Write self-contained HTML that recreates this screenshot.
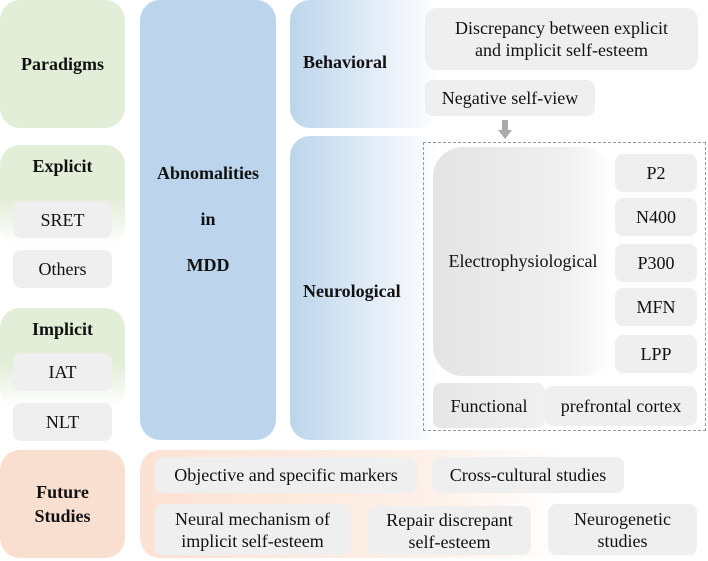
<!DOCTYPE html>
<html><head><meta charset="utf-8"><style>
body{margin:0;width:708px;height:561px;background:#fff;position:relative;overflow:hidden;font-family:"Liberation Serif","Times New Roman",serif;color:#111}
div.b{position:absolute;display:flex;align-items:center;justify-content:center;text-align:center;box-sizing:border-box;font-family:"Liberation Serif","Times New Roman",serif}
.g{background:#efefef;border-radius:8px;font-size:18px;line-height:22px;white-space:nowrap}
.h{font-weight:bold;font-size:18px}
</style></head><body>
<div class="b h" style="left:0;top:0;width:125px;height:128px;background:#e3eed9;border-radius:20px">Paradigms</div>
<div class="b h" style="left:0;top:145px;width:125px;height:100px;background:linear-gradient(#e3eed9 55%,#fff);border-radius:20px;align-items:flex-start;padding-top:11px">Explicit</div>
<div class="b h" style="left:0;top:308px;width:125px;height:100px;background:linear-gradient(#e3eed9 55%,#fff);border-radius:20px;align-items:flex-start;padding-top:11px">Implicit</div>
<div class="b g" style="left:13px;top:201px;width:99px;height:37px">SRET</div>
<div class="b g" style="left:13px;top:250px;width:99px;height:38px">Others</div>
<div class="b g" style="left:13px;top:353px;width:99px;height:38px">IAT</div>
<div class="b g" style="left:13px;top:403px;width:99px;height:38px">NLT</div>
<div class="b h" style="left:140px;top:0;width:136px;height:440px;background:#bcd5ec;border-radius:20px;line-height:46px;padding-bottom:2px">Abnomalities<br>in<br>MDD</div>
<div class="b h" style="left:290px;top:0;width:150px;height:128px;background:linear-gradient(90deg,#bcd5ec,#fff);border-radius:20px;justify-content:flex-start;padding-left:13px;padding-bottom:4px">Behavioral</div>
<div class="b h" style="left:290px;top:136px;width:150px;height:304px;background:linear-gradient(90deg,#bcd5ec,#fff);border-radius:20px;justify-content:flex-start;padding-left:13px;padding-top:6px">Neurological</div>
<div class="b g" style="left:425px;top:8px;width:273px;height:62px;border-radius:12px">Discrepancy between explicit<br>and implicit self-esteem</div>
<div class="b g" style="left:425px;top:80px;width:170px;height:36px">Negative self-view</div>
<div style="position:absolute;left:502px;top:120px;width:6px;height:10px;background:#aaa"></div>
<div style="position:absolute;left:498px;top:130px;width:0;height:0;border-left:7px solid transparent;border-right:7px solid transparent;border-top:9px solid #aaa"></div>
<div style="position:absolute;left:423px;top:142px;width:283px;height:289px;border:1px dashed #999;box-sizing:border-box"></div>
<div class="b" style="left:433px;top:147px;width:180px;height:229px;background:linear-gradient(90deg,#e4e4e4,#f0f0f0 75%,#fff);border-radius:30px;font-size:18px">Electrophysiological</div>
<div class="b g" style="left:615px;top:154px;width:82px;height:38px">P2</div>
<div class="b g" style="left:615px;top:198px;width:82px;height:38px">N400</div>
<div class="b g" style="left:615px;top:244px;width:82px;height:38px">P300</div>
<div class="b g" style="left:615px;top:288px;width:82px;height:38px">MFN</div>
<div class="b g" style="left:615px;top:335px;width:82px;height:38px">LPP</div>
<div class="b g" style="left:433px;top:383px;width:112px;height:45px;background:linear-gradient(90deg,#e6e6e6,#f0f0f0)">Functional</div>
<div class="b g" style="left:545px;top:386px;width:152px;height:40px">prefrontal cortex</div>
<div class="b h" style="left:0;top:450px;width:125px;height:108px;background:#f9dfd0;border-radius:20px;line-height:24px">Future<br>Studies</div>
<div class="b" style="left:140px;top:450px;width:568px;height:108px;background:linear-gradient(90deg,#fbe2d4,#fdf0e8 50%,#fff 75%);border-radius:20px"></div>
<div class="b g" style="left:155px;top:457px;width:262px;height:36px">Objective and specific markers</div>
<div class="b g" style="left:432px;top:457px;width:192px;height:36px">Cross-cultural studies</div>
<div class="b g" style="left:155px;top:504px;width:195px;height:51px">Neural mechanism of<br>implicit self-esteem</div>
<div class="b g" style="left:368px;top:506px;width:163px;height:49px">Repair discrepant<br>self-esteem</div>
<div class="b g" style="left:548px;top:504px;width:149px;height:51px">Neurogenetic<br>studies</div>
</body></html>
